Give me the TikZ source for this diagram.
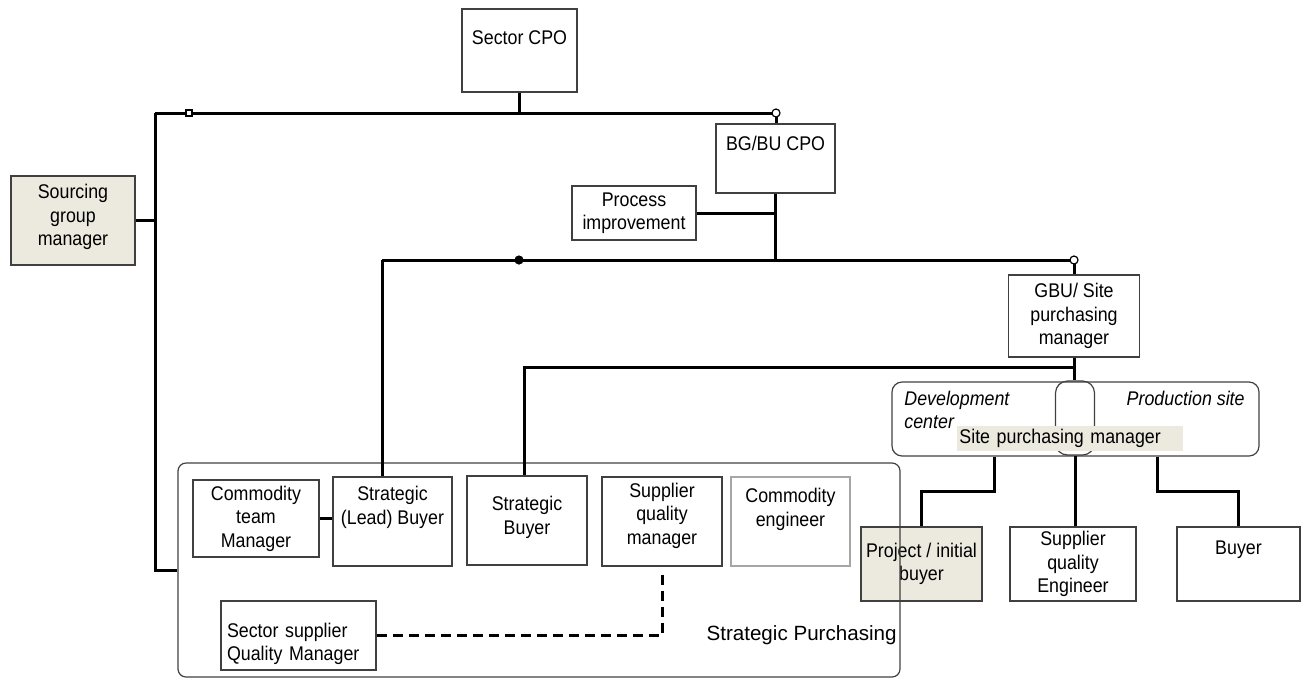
\documentclass[tikz,border=0pt]{standalone}
\usepackage{fontspec}
\setmainfont{Liberation Sans}[FakeStretch=0.9]
\newfontfamily\plainsans{Liberation Sans}
\usepackage{xcolor}
\usepackage{tikz}
\usetikzlibrary{positioning,calc}
\definecolor{orgbeige}{RGB}{236,233,223}
\definecolor{orggray}{RGB}{64,64,64}
\newcommand{\boxfont}{\fontsize{9.9}{11.7}\selectfont}

\begin{document}
\begin{tikzpicture}[
    x=0.5pt, y=-0.5pt,
    box/.style={rectangle, draw=orggray, line width=0.6pt, fill=white, align=center, font=\boxfont, inner sep=2pt},
    shaded/.style={box, fill=orgbeige},
    faint/.style={box, draw=black!35},
    group/.style={rectangle, rounded corners=#1, draw=orggray, line width=0.6pt},
    conn/.style={line width=1.5pt},
    dashconn/.style={line width=1.5pt, dash pattern=on 5pt off 3pt},
    knob/.style={circle, draw, fill=white, line width=0.6pt, minimum size=4pt, inner sep=0pt},
    spot/.style={circle, fill, minimum size=4.6pt, inner sep=0pt},
    tick/.style={rectangle, draw, fill=white, line width=0.6pt, minimum size=3pt, inner sep=0pt}
]
    \useasboundingbox (0,0) rectangle (1304,681);

    % top level
    \node[box, minimum width=57.5pt, minimum height=41.5pt, text depth=13pt] (sector) at (519.5,50.5) {Sector CPO};
    \node[shaded, minimum width=62pt, minimum height=44.5pt, text depth=5.5pt] (sgm) at (73,220.5) {Sourcing\\group\\manager};
    \node[box, minimum width=59.5pt, minimum height=34.5pt, text depth=15.5pt] (bgbu) at (775.5,158.5) {BG/BU CPO};
    \node[box, minimum width=62pt, minimum height=27pt] (proc) at (634,213) {Process\\improvement};
    \node[box, minimum width=65.5pt, minimum height=41pt] (gbu) at (1074,316) {GBU/ Site\\purchasing\\manager};

    % sites
    \node[group=5pt, minimum width=183.5pt, minimum height=37pt] (site) at (1075.5,419) {};
    \node[group=6pt, minimum width=19.5pt, minimum height=37pt] (sitehub) at (1075,418) {};
    \node[font=\boxfont\itshape, align=left, anchor=west, inner sep=1pt] (devc) at (902,410) {Development\\center};
    \node[font=\boxfont\itshape, anchor=east, inner sep=1pt] (prods) at (1247,398) {Production site};
    \node[font=\boxfont, fill=orgbeige, anchor=west, text width=111pt, inner xsep=1pt, inner ysep=0pt, minimum height=12.5pt, align=left] (spmlabel) at (957,438.5) {Site purchasing manager};
    \node[shaded, inner xsep=1pt, minimum width=60.5pt, minimum height=37pt] (pib) at (921.5,564) {Project / initial\\buyer};
    \node[box, minimum width=63pt, minimum height=37pt] (sqe) at (1073,564) {Supplier\\quality\\Engineer};
    \node[box, minimum width=61.5pt, minimum height=37pt, text depth=16pt] (buyer) at (1238.5,564) {Buyer};

    % strategic purchasing
    \node[group=4pt, minimum width=361pt, minimum height=107pt] (sp) at (539,570) {};
    \node[font=\plainsans\fontsize{10.3}{12}\selectfont, anchor=east, inner sep=1pt] (splabel) at (899,635) {Strategic Purchasing};
    \node[box, minimum width=63pt, minimum height=38.5pt] (ctm) at (256,518.5) {Commodity\\team\\Manager};
    \node[box, minimum width=59.5pt, minimum height=44.5pt, text depth=16pt] (slb) at (392.5,521.5) {Strategic\\(Lead) Buyer};
    \node[box, minimum width=60pt, minimum height=44.5pt, text depth=5pt] (sb) at (527,520.5) {Strategic\\Buyer};
    \node[box, minimum width=60pt, minimum height=44.5pt, text depth=8pt] (sqm) at (662,521.5) {Supplier\\quality\\manager};
    \node[faint, minimum width=59.5pt, minimum height=44.5pt, text depth=14pt] (ce) at (790.5,521.5) {Commodity\\engineer};
    \node[box, minimum width=77.5pt, minimum height=34.5pt, text width=71.5pt, inner xsep=3pt, align=left, text depth=5.5pt] (ssqm) at (298.5,635.5) {Sector supplier\\Quality Manager};

    % connectors
    \coordinate (topl) at (155,113);
    \coordinate (topr) at (776,113);
    \coordinate (midl) at (382,260);
    \coordinate (midr) at (1074,260);
    \coordinate (lowl) at (524,367);
    \coordinate (devx) at (994,491);
    \coordinate (prodx) at (1157,491);

    \draw[conn] (sector) -- (sector |- topl);
    \draw[conn] (topl) -- (topr) -- (topr |- bgbu.north);
    \draw[conn] (topl) |- (sp.west);
    \draw[conn] (sgm) -- (sgm -| topl);
    \draw[conn] (bgbu) -- (bgbu |- midl);
    \draw[conn] (proc) -- (proc -| bgbu);
    \draw[conn] (midl) -- (midr) -- (gbu);
    \draw[conn] (midl) -- (midl |- slb.north);
    \draw[conn] (gbu.south) -- (gbu.south |- lowl) -- (lowl) -- (lowl |- sb.north);
    \draw[conn] (gbu.south) -- (gbu.south |- sitehub.north);
    \draw[conn] (site.south -| devx) -- (devx) -| (pib);
    \draw[conn] (site.south -| prodx) -- (prodx) -| (buyer);
    \draw[conn] (sitehub.south) -- (sitehub.south |- sqe.north);
    \draw[conn] (ctm) -- (ctm -| slb.west);
    \draw[dashconn] ([yshift=-4pt]sqm.south) |- (ssqm);

    % markers on the lines
    \node[tick] (topmark) at (189,113) {};
    \node[knob] (topknob) at (topr) {};
    \node[spot] (midspot) at (519,260) {};
    \node[knob] (midknob) at (midr) {};
\end{tikzpicture}
\end{document}
